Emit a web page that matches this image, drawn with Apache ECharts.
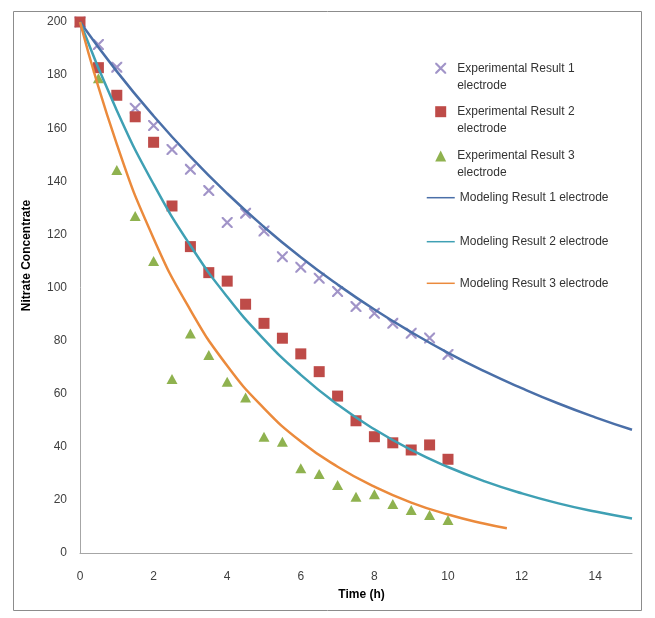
<!DOCTYPE html>
<html>
<head>
<meta charset="utf-8">
<script src="https://cdn.jsdelivr.net/npm/echarts@6/dist/echarts.min.js"></script>
<style>
html,body{margin:0;padding:0;background:#fff;}
#chart{width:655px;height:618px;}
</style>
</head>
<body>
<div id="chart"></div>
<script>
// ---- data ----
var expTimes = [0, 0.5, 1, 1.5, 2, 2.5, 3, 3.5, 4, 4.5, 5, 5.5, 6, 6.5, 7, 7.5, 8, 8.5, 9, 9.5, 10];
var exp1 = [200, 191.5, 183, 167.5, 161, 152, 144.5, 136.5, 124.5, 128, 121.3, 111.6, 107.6, 103.5, 98.5, 92.8, 90.3, 86.5, 82.8, 81, 74.8];
var exp2 = [200, 182.8, 172.4, 164.3, 154.7, 130.7, 115.4, 105.6, 102.4, 93.7, 86.5, 80.9, 75, 68.3, 59.1, 49.8, 43.8, 41.5, 38.8, 40.7, 35.3];
var exp3 = [200, 178.8, 144.3, 126.9, 110, 65.5, 82.7, 74.6, 64.5, 58.6, 43.8, 41.9, 31.9, 29.8, 25.6, 21.2, 22.1, 18.5, 16.2, 14.3, 12.4];

var modelTimes12 = [0, 1, 2, 3, 4, 5, 6, 7, 8, 9, 10, 11, 12, 13, 14, 15];
var model1 = [200, 181.4, 164.6, 149.3, 135.4, 122.8, 111.4, 101.1, 91.7, 83.2, 75.4, 68.4, 62.1, 56.3, 51.1, 46.4];
var model2 = [200, 166.7, 138.9, 115.8, 96.5, 80.5, 67.1, 55.9, 46.6, 38.8, 32.4, 27.0, 22.5, 18.7, 15.6, 13.0];
var modelTimes3 = [0, 1, 2, 3, 4, 5, 6, 7, 8, 9, 10, 11, 11.6];
var model3 = [200, 154, 118.5, 91.5, 70.5, 54.5, 42, 32.5, 25, 19, 14.5, 11, 9.3];

var seriesNames = [
  'Experimental Result 1 electrode',
  'Experimental Result 2 electrode',
  'Experimental Result 3 electrode',
  'Modeling Result 1 electrode',
  'Modeling Result 2 electrode',
  'Modeling Result 3 electrode'
];
var xTitle = 'Time (h)';
var yTitle = 'Nitrate Concentrate';

function pairs(xs, ys) { return xs.map(function (x, i) { return [x, ys[i]]; }); }

var FONT = 'Liberation Sans';
var crossPath = 'path://M0,0L1.4,0L10,8.6L10,10L8.6,10L0,1.4Z M8.6,0L10,0L10,1.4L1.4,10L0,10L0,8.6Z';

// legend for a marker series: icon 11x11 centred at x=440.7, text wrapped on two lines
function markerLegend(name, centerY) {
  return {
    data: [name],
    left: 435.2,
    top: centerY - 25.5,
    padding: 0,
    itemWidth: 11,
    itemHeight: 11,
    formatter: function (n) {
      var parts = n.split(' electrode');
      return '\n{sp|}' + parts[0] + '\n{sp|}electrode';
    },
    textStyle: {
      fontFamily: FONT, fontSize: 12, color: '#333', lineHeight: 17,
      rich: { sp: { width: 6, lineHeight: 17 } }
    }
  };
}
// legend for a line series: short thin line from x=426 to 454
function lineLegend(name, centerY) {
  return {
    data: [name],
    left: 426,
    top: centerY - 8.5,
    padding: 0,
    itemWidth: 28,
    itemHeight: 3,
    lineStyle: { width: 1.5 },
    itemStyle: { opacity: 0 },
    textStyle: { fontFamily: FONT, fontSize: 12, color: '#333', lineHeight: 17 }
  };
}

var chart = echarts.init(document.getElementById('chart'), null, { renderer: 'canvas' });
chart.setOption({
  backgroundColor: '#fff',
  animation: false,
  graphic: [{
    type: 'rect',
    shape: { x: 13.5, y: 11.5, width: 628, height: 599 },
    style: { fill: 'none', stroke: '#8c8c8c', lineWidth: 1 },
    silent: true
  }],
  grid: { left: 80, right: 23, top: 22, bottom: 65 },
  legend: [
    markerLegend(seriesNames[0], 68.3),
    markerLegend(seriesNames[1], 111.7),
    markerLegend(seriesNames[2], 156),
    lineLegend(seriesNames[3], 197.7),
    lineLegend(seriesNames[4], 241.7),
    lineLegend(seriesNames[5], 283.3)
  ],
  xAxis: {
    type: 'value', min: 0, max: 15, interval: 2,
    name: xTitle, nameLocation: 'middle', nameGap: 36,
    nameTextStyle: { fontFamily: FONT, fontSize: 12, fontWeight: 'bold', color: '#000', padding: [0, 0, 0, 11] },
    axisLine: { lineStyle: { color: '#a6a6a6', width: 1 } },
    axisTick: { show: false },
    splitLine: { show: false },
    axisLabel: { fontFamily: FONT, fontSize: 12, color: '#404040', margin: 18, showMaxLabel: false }
  },
  yAxis: {
    type: 'value', min: 0, max: 200, interval: 20,
    name: yTitle, nameLocation: 'middle', nameGap: 47,
    nameTextStyle: { fontFamily: FONT, fontSize: 12, fontWeight: 'bold', color: '#000', padding: [0, 0, 0, 64] },
    axisLine: { show: true, lineStyle: { color: '#a6a6a6', width: 1 } },
    axisTick: { show: false },
    splitLine: { show: false },
    axisLabel: { fontFamily: FONT, fontSize: 12, color: '#404040', margin: 13 }
  },
  series: [
    { name: seriesNames[0], type: 'scatter', data: pairs(expTimes, exp1), symbol: crossPath, symbolSize: 11,
      itemStyle: { color: '#a194c8', opacity: 1 }, z: 2 },
    { name: seriesNames[1], type: 'scatter', data: pairs(expTimes, exp2), symbol: 'rect', symbolSize: 11,
      itemStyle: { color: '#be4b48', opacity: 1 }, z: 2 },
    { name: seriesNames[2], type: 'scatter', data: pairs(expTimes, exp3), symbol: 'triangle', symbolSize: [11, 10],
      itemStyle: { color: '#8fb24f', opacity: 1 }, z: 1 },
    { name: seriesNames[3], type: 'line', data: pairs(modelTimes12, model1), symbol: 'none', smooth: true,
      lineStyle: { color: '#4a6fa8', width: 2.5 }, itemStyle: { color: '#4a6fa8' }, z: 3 },
    { name: seriesNames[4], type: 'line', data: pairs(modelTimes12, model2), symbol: 'none', smooth: true,
      lineStyle: { color: '#3fa0b4', width: 2.5 }, itemStyle: { color: '#3fa0b4' }, z: 3 },
    { name: seriesNames[5], type: 'line', data: pairs(modelTimes3, model3), symbol: 'none', smooth: true,
      lineStyle: { color: '#eb8a3c', width: 2.5 }, itemStyle: { color: '#eb8a3c' }, z: 3 }
  ]
});
</script>
</body>
</html>
